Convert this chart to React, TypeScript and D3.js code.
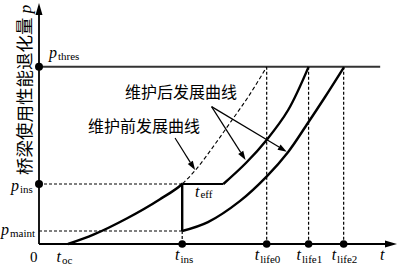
import React from "react";
import * as d3 from "d3";

// key abscissae (t) and ordinates (p), abstract units 0..100
const tOc = 8.1;
const tIns = 40.0;
const tEffEnd = 51.5;
const tLifeVals = [63.6, 75.3, 85.1];
const tLifeSubs = ["life0", "life1", "life2"];
const tThresEnd = 95.3;
const pThres = 73.5;
const pIns = 24.9;
const pMaint = 5.4;

// development curves: [t, p]
const preCurve: [number, number][] = [
  [8.1, 0], [15.2, 3.9], [24.5, 10.6], [33.8, 18.6], [40.0, 24.9],
  [43.6, 30.5], [49.2, 41.5], [53.8, 51.2], [58.5, 61.2], [61.7, 68.8], [63.6, 73.5],
];
const postCurveEff: [number, number][] = [
  [51.5, 24.9], [57.8, 33.6], [63.7, 43.4], [69.6, 55.6], [75.3, 73.5],
];
const postCurveMaint: [number, number][] = [
  [40.0, 5.4], [47.2, 9.1], [56.1, 17.8], [63.7, 28.2], [69.6, 38.2],
  [75.1, 50.2], [79.9, 61.0], [85.2, 73.4],
];

// annotation arrows: [from t, from p, to t, to p]
const arrowsAfter: [number, number, number, number][] = [
  [48.2, 57.0, 57.7, 34.9],
  [48.2, 57.0, 69.2, 38.3],
];
const arrowsBefore: [number, number, number, number][] = [
  [38.0, 44.0, 43.6, 30.7],
];

const labelAfter = "维护后发展曲线";
const labelBefore = "维护前发展曲线";
const yTitle = "桥梁使用性能退化量";

const W = 400;
const H = 265;

const x = d3.scaleLinear().domain([0, 100]).range([39, 397]);
const y = d3.scaleLinear().domain([0, 100]).range([244, 3]);

const line = d3
  .line<[number, number]>()
  .x((d) => x(d[0]))
  .y((d) => y(d[1]))
  .curve(d3.curveMonotoneX);

const smooth = d3
  .line<[number, number]>()
  .x((d) => x(d[0]))
  .y((d) => y(d[1]))
  .curve(d3.curveCatmullRom.alpha(0.5));

const SERIF = "'Liberation Serif', 'Times New Roman', serif";
const CJK = "'Noto Sans CJK SC', sans-serif";

function Sym({ base, sub, xPos, yPos, subDy = 2, fs = 16, sfs = 11 }: any) {
  return (
    <text x={xPos} y={yPos} fontFamily={SERIF} fontSize={fs} fill="#000">
      <tspan fontStyle="italic">{base}</tspan>
      <tspan fontSize={sfs} dy={subDy} dx={1}>{sub}</tspan>
    </text>
  );
}

function Arrow({ a }: { a: [number, number, number, number] }) {
  const x1 = x(a[0]), y1 = y(a[1]), x2 = x(a[2]), y2 = y(a[3]);
  const ang = Math.atan2(y2 - y1, x2 - x1);
  const L = 9, Wd = 3;
  const bx = x2 - L * Math.cos(ang), by = y2 - L * Math.sin(ang);
  const px = -Math.sin(ang) * Wd, py = Math.cos(ang) * Wd;
  return (
    <g>
      <line x1={x1} y1={y1} x2={bx} y2={by} stroke="#000" strokeWidth={1.2} />
      <path d={`M${x2},${y2}L${bx + px},${by + py}L${bx - px},${by - py}Z`} fill="#000" />
    </g>
  );
}

export default function App() {
  const x0 = x(0), y0 = y(0);
  const xi = x(tIns);
  return (
    <svg width={W} height={H} viewBox={`0 0 ${W} ${H}`}
      style={{ position: "absolute", left: 0, top: 0, background: "#fff" }}>
      <defs>
        <clipPath id="leftOfIns"><rect x={0} y={0} width={xi} height={H} /></clipPath>
        <clipPath id="rightOfIns"><rect x={xi} y={0} width={W - xi} height={H} /></clipPath>
      </defs>

      {/* dashed guides */}
      <g stroke="#000" strokeWidth={1.2} strokeDasharray="3,2" fill="none">
        <line x1={x0} y1={y(pIns)} x2={xi} y2={y(pIns)} />
        <line x1={x0} y1={y(pMaint)} x2={xi} y2={y(pMaint)} />
        <line x1={xi} y1={y(pMaint)} x2={xi} y2={y0} />
        {tLifeVals.map((t, i) => (
          <line key={i} x1={x(t)} y1={y(pThres)} x2={x(t)} y2={y0} />
        ))}
      </g>

      {/* threshold line */}
      <line x1={x0} y1={y(pThres)} x2={x(tThresEnd)} y2={y(pThres)} stroke="#333" strokeWidth={2} />

      {/* pre-maintenance curve: solid then dashed */}
      <path d={line(preCurve) || ""} fill="none" stroke="#000" strokeWidth={2.4} clipPath="url(#leftOfIns)" />
      <path d={line(preCurve) || ""} fill="none" stroke="#000" strokeWidth={1.1} strokeDasharray="4,2.5" clipPath="url(#rightOfIns)" />

      {/* maintenance jumps */}
      <line x1={xi} y1={y(pIns)} x2={xi} y2={y(pMaint)} stroke="#000" strokeWidth={2.4} />
      <line x1={xi} y1={y(pIns)} x2={x(tEffEnd)} y2={y(pIns)} stroke="#000" strokeWidth={2} />

      {/* post-maintenance curves */}
      <path d={smooth(postCurveEff) || ""} fill="none" stroke="#000" strokeWidth={2.4} />
      <path d={smooth(postCurveMaint) || ""} fill="none" stroke="#000" strokeWidth={2.4} />

      {/* axes */}
      <g stroke="#000" strokeWidth={1.8}>
        <line x1={x0} y1={y0} x2={x(100) - 8} y2={y0} />
        <line x1={x0} y1={y0} x2={x0} y2={y(100) + 8} />
      </g>
      <path d={`M${x(100)},${y0}L${x(100) - 12},${y0 - 3.5}L${x(100) - 12},${y0 + 3.5}Z`} fill="#000" />
      <path d={`M${x0},${y(100)}L${x0 - 3.5},${y(100) + 12}L${x0 + 3.5},${y(100) + 12}Z`} fill="#000" />

      {/* dots */}
      <g fill="#000">
        <circle cx={x0} cy={y(pThres)} r={4} />
        <circle cx={x0} cy={y(pIns)} r={4} />
        <circle cx={xi} cy={y0} r={3.8} />
        {tLifeVals.map((t, i) => (
          <circle key={i} cx={x(t)} cy={y0} r={3.8} />
        ))}
      </g>

      {/* annotation arrows */}
      {arrowsAfter.map((a, i) => <Arrow key={"a" + i} a={a} />)}
      {arrowsBefore.map((a, i) => <Arrow key={"b" + i} a={a} />)}

      {/* curve labels */}
      <text x={125} y={98} fontFamily={CJK} fontSize={16} fill="#000">{labelAfter}</text>
      <text x={88} y={132} fontFamily={CJK} fontSize={16} fill="#000">{labelBefore}</text>

      {/* y title */}
      <text transform="translate(31,175) rotate(-90)" fontFamily={CJK} fontSize={17.5} fill="#000">
        {yTitle}
        <tspan fontFamily={SERIF} fontStyle="italic" dx={4}>p</tspan>
      </text>

      {/* y symbols */}
      <Sym base="p" sub="thres" xPos={49} yPos={58} />
      <Sym base="p" sub="ins" xPos={11} yPos={191} />
      <Sym base="p" sub="maint" xPos={1} yPos={235} />

      {/* x symbols */}
      <text x={30} y={261.5} fontFamily={SERIF} fontSize={15} fill="#000">0</text>
      <Sym base="t" sub="oc" xPos={56.5} yPos={261.5} />
      <Sym base="t" sub="ins" xPos={175} yPos={260} subDy={3} />
      {tLifeVals.map((t, i) => (
        <Sym key={i} base="t" sub={tLifeSubs[i]} xPos={x(t) - 12} yPos={260} subDy={3} />
      ))}
      <text x={380} y={260} fontFamily={SERIF} fontSize={16} fontStyle="italic" fill="#000">t</text>
      <Sym base="t" sub="eff" xPos={195} yPos={197} subDy={1} />
    </svg>
  );
}
